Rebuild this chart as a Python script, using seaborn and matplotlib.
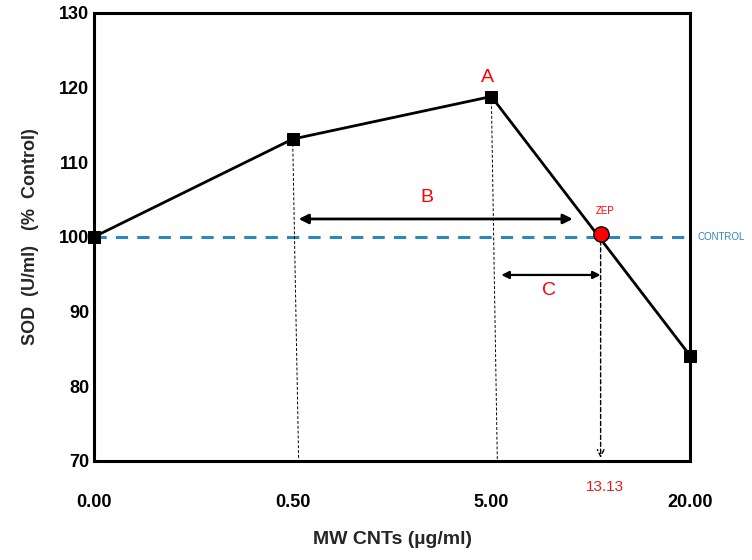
import numpy as np
import pandas as pd
import matplotlib
matplotlib.use("Agg")
import matplotlib.pyplot as plt
import seaborn as sns

# data
doses = ["0.00", "0.50", "5.00", "20.00"]
sod = [100.0, 113.1, 118.8, 84.1]
control_level = 100.0
zep_pos = 2.55          # where the line crosses control, in category units
zep_value = 100.4
zep_label = "13.13"

df = pd.DataFrame({"pos": np.arange(len(doses)), "sod": sod})

sns.set_theme(style="white")
plt.rcParams["font.family"] = ["Liberation Sans", "DejaVu Sans"]

fig = plt.figure(figsize=(7.52, 5.6), dpi=100)
ax = fig.add_axes([0.125, 0.177, 0.7926, 0.8])

# control line
ax.axhline(control_level, color="#2E86C1", ls=(0, (4, 3)), lw=2.2, zorder=1)

# main series
sns.lineplot(data=df, x="pos", y="sod", ax=ax, color="black", lw=2,
             marker="s", markersize=9, markeredgecolor="black", zorder=5)
for ln in ax.lines:
    ln.set_clip_on(False)

# dotted drop lines
for i in (1, 2):
    ax.plot([df.pos[i], df.pos[i] + 0.03], [sod[i], 70], color="black",
            ls=(0, (3, 2)), lw=0.7, zorder=2)
ax.annotate("", xy=(zep_pos, 70.4), xytext=(zep_pos, zep_value),
            arrowprops=dict(arrowstyle="->", ls=(0, (3, 2)), lw=1, color="black",
                            mutation_scale=12, shrinkA=0, shrinkB=0))

# ZEP point
ax.plot(zep_pos, zep_value, "o", color="red", mec="black", mew=1, ms=11, zorder=6)

# B and C arrows
ax.annotate("", xy=(1.03, 102.4), xytext=(2.41, 102.4),
            arrowprops=dict(arrowstyle="<|-|>", lw=2, color="black",
                            mutation_scale=14, shrinkA=0, shrinkB=0))
ax.annotate("", xy=(2.05, 94.9), xytext=(2.55, 94.9),
            arrowprops=dict(arrowstyle="<|-|>", lw=1.6, color="black",
                            mutation_scale=11, shrinkA=0, shrinkB=0))

ax.text(1.98, 121.4, "A", color="red", fontsize=14, ha="center", va="center")
ax.text(1.675, 105.3, "B", color="red", fontsize=14, ha="center", va="center")
ax.text(2.29, 92.8, "C", color="red", fontsize=14, ha="center", va="center")
ax.text(2.575, 103.5, "ZEP", color="red", fontsize=7, ha="center", va="center")
ax.text(3.04, control_level, "CONTROL", color="#2E86C1", fontsize=7,
        ha="left", va="center")
ax.text(zep_pos + 0.02, 67.4, zep_label, color="#E02020", fontsize=11,
        ha="center", va="top")

ax.set_xlim(0, 3)
ax.set_ylim(70, 130)
ax.set_xticks(df.pos)
ax.set_xticklabels(doses)
ax.set_yticks(np.arange(70, 131, 10))
ax.tick_params(axis="both", length=0, labelsize=13, colors="black")
ax.tick_params(axis="x", pad=24)
for lab in ax.get_xticklabels() + ax.get_yticklabels():
    lab.set_fontweight("bold")

for s in ax.spines.values():
    s.set_visible(True)
    s.set_color("black")
    s.set_linewidth(2.2)

ax.set_xlabel("MW CNTs (µg/ml)", fontsize=14, fontweight="bold", labelpad=14)
ax.set_ylabel("SOD  (U/ml)   (%  Control)", fontsize=13, fontweight="bold",
              labelpad=14)

fig.savefig("out.png", dpi=100)
